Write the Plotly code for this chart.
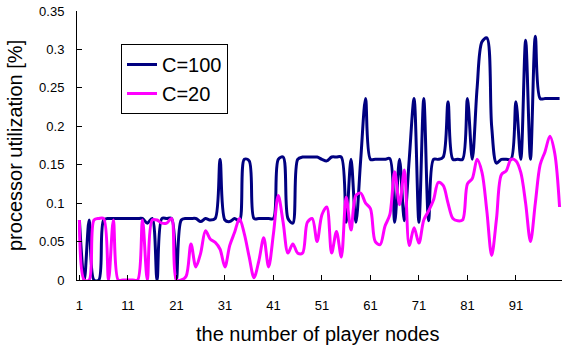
import plotly.graph_objects as go

nodes = list(range(1, 101))

c100 = [0.078, 0, 0.078, 0, 0, 0.078, 0.08, 0.08, 0.08, 0.08,
        0.08, 0.08, 0.08, 0.08, 0.074, 0.08, 0, 0.08, 0.08, 0.08,
        0, 0.078, 0.08, 0.08, 0.08, 0.076, 0.08, 0.078, 0.08, 0.157,
        0.078, 0.076, 0.08, 0.077, 0.157, 0.155, 0.08, 0.08, 0.08, 0.08,
        0.08, 0.157, 0.16, 0.08, 0.074, 0.157, 0.16, 0.16, 0.16, 0.16,
        0.157, 0.155, 0.16, 0.16, 0.16, 0.075, 0.157, 0.075, 0.157, 0.236,
        0.157, 0.157, 0.157, 0.157, 0.158, 0.075, 0.157, 0.077, 0.157, 0.236,
        0.075, 0.236, 0.077, 0.157, 0.157, 0.16, 0.232, 0.157, 0.157, 0.157,
        0.236, 0.157, 0.25, 0.31, 0.315, 0.2, 0.152, 0.157, 0.157, 0.157,
        0.232, 0.157, 0.312, 0.157, 0.317, 0.236, 0.236, 0.236, 0.236, 0.236]

c20 = [0.078, 0, 0, 0.078, 0.08, 0.08, 0, 0.078, 0, 0,
       0, 0, 0, 0.078, 0, 0.078, 0.078, 0.074, 0.074, 0.08,
       0, 0, 0.005, 0.047, 0.017, 0.035, 0.064, 0.053, 0.049, 0.04,
       0.017, 0.045, 0.062, 0.08, 0.06, 0.03, 0.003, 0.025, 0.055, 0.017,
       0.06, 0.11, 0.075, 0.035, 0.047, 0.035, 0.035, 0.075, 0.08, 0.05,
       0.085, 0.095, 0.035, 0.063, 0.03, 0.108, 0.065, 0.11, 0.113, 0.1,
       0.093, 0.05, 0.046, 0.07, 0.085, 0.141, 0.098, 0.143, 0.045, 0.068,
       0.048, 0.078, 0.09, 0.104, 0.127, 0.123, 0.1, 0.08, 0.077, 0.078,
       0.125, 0.132, 0.157, 0.14, 0.09, 0.032, 0.08, 0.137, 0.142, 0.157,
       0.155, 0.14, 0.1, 0.05, 0.1, 0.15, 0.167, 0.187, 0.165, 0.095]

x_tickvals = [1, 11, 21, 31, 41, 51, 61, 71, 81, 91]
x_ticktext = ["1", "11", "21", "31", "41", "51", "61", "71", "81", "91"]
y_tickvals = [0, 0.05, 0.1, 0.15, 0.2, 0.25, 0.3, 0.35]
y_ticktext = ["0", "0.05", "0.1", "0.15", "0.2", "0.25", "0.3", "0.35"]

fig = go.Figure()
fig.add_trace(go.Scatter(x=nodes, y=c100, mode="lines", name="C=100",
                         line=dict(color="#000080", width=3, shape="spline", smoothing=0.9)))
fig.add_trace(go.Scatter(x=nodes, y=c20, mode="lines", name="C=20",
                         line=dict(color="#FF00FF", width=3, shape="spline", smoothing=0.9)))

W, H = 562, 345
PL, PR, PT, PB = 77, 562, 11, 280   # plot area in page pixels
L, R, T, B = PL, W - PR, PT, H - PB
pw, ph = W - L - R, H - T - B

def px(xp):
    return (xp - L) / pw

def py(yp):
    return (H - B - yp) / ph

fig.update_layout(
    width=W, height=H,
    margin=dict(l=L, r=R, t=T, b=B, autoexpand=False),
    paper_bgcolor="white", plot_bgcolor="white",
    font=dict(family="Liberation Sans, Arial, sans-serif", color="black"),
    showlegend=True,
    hovermode=False,
    legend=dict(x=px(121), y=py(44), xanchor="left", yanchor="top",
                bgcolor="white", bordercolor="black", borderwidth=1,
                font=dict(size=20, color="black"), itemwidth=30,
                tracegroupgap=0),
    xaxis=dict(range=[0.5, 100.5], tickvals=x_tickvals, ticktext=x_ticktext,
               showgrid=False, zeroline=False, showline=True, linecolor="black",
               linewidth=1, ticks="inside", ticklen=5, tickcolor="black",
               tickfont=dict(size=13), ticklabelstandoff=13),
    yaxis=dict(range=[0, 0.35], tickvals=y_tickvals, ticktext=y_ticktext,
               showgrid=False, zeroline=False, showline=True, linecolor="black",
               linewidth=1, ticks="inside", ticklen=5, tickcolor="black",
               tickfont=dict(size=13), ticklabelstandoff=9),
    annotations=[
        dict(text="processor utilization [%]", xref="paper", yref="paper",
             x=px(15), y=py(146), textangle=-90, showarrow=False,
             font=dict(size=20), xanchor="center", yanchor="middle"),
        dict(text="the number of player nodes", xref="paper", yref="paper",
             x=px(318), y=py(334), showarrow=False,
             font=dict(size=20), xanchor="center", yanchor="middle"),
    ],
)

fig.write_html("out.html",
               config={"displayModeBar": False, "staticPlot": True},
               post_script="document.body.style.margin='0';document.body.style.overflow='hidden';")
